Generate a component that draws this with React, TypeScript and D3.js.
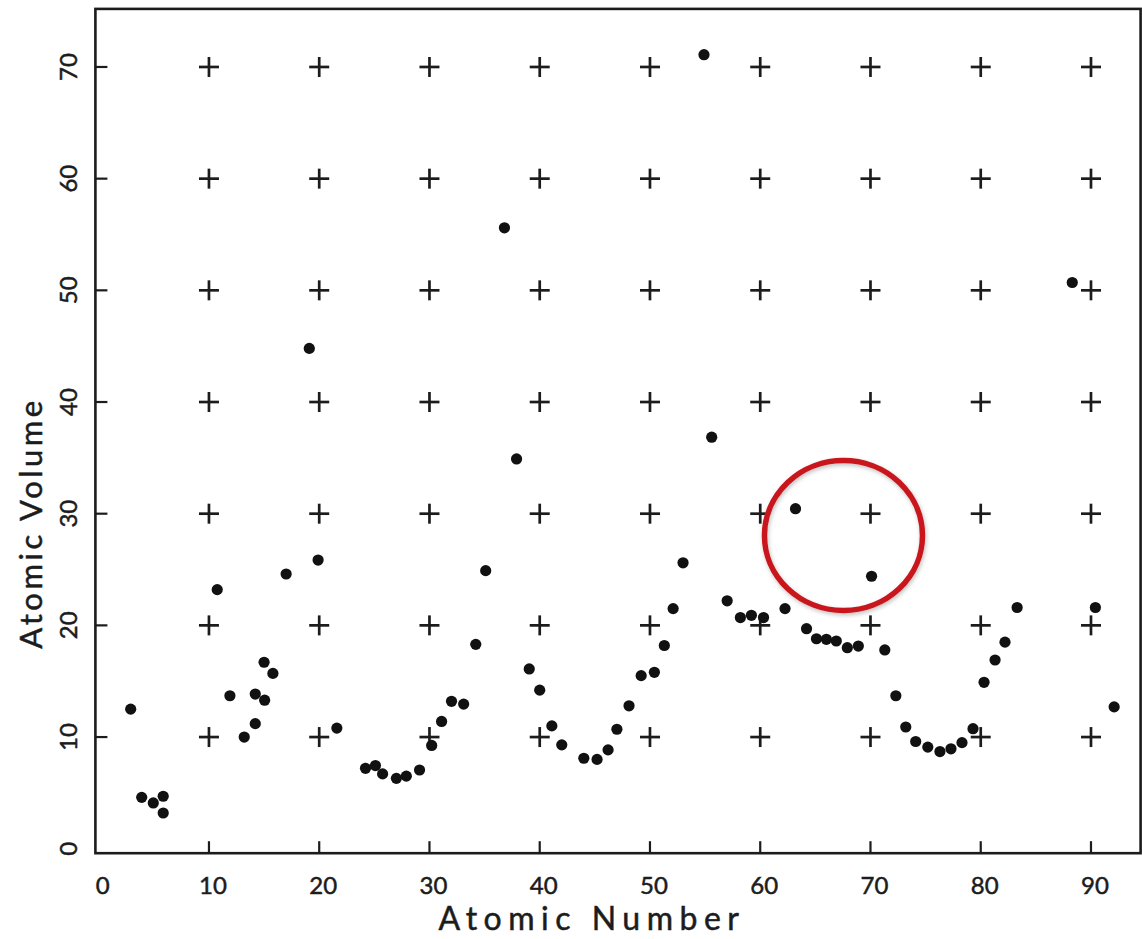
import React from 'react'
import * as d3 from 'd3'

// atomic number / atomic volume
const atomicNumber = [
  2.9, 3.9, 4.95, 5.85, 5.85, 10.75, 11.9, 13.2, 14.2, 14.2, 15.05, 15.0, 15.8, 17.0, 19.1, 19.9,
  21.6, 24.2, 25.1, 25.75, 27.0, 27.9, 29.1, 30.2, 31.1, 32.0, 33.1, 34.2, 35.1, 36.8, 37.9,
  39.05, 40.0, 41.1, 42.0, 44.0, 45.2, 46.2, 47.0, 48.1, 49.2, 50.4, 51.3, 52.1, 53.0, 54.9,
  55.6, 57.0, 58.2, 59.2, 60.3, 62.25, 63.2, 64.2, 65.1, 66.0, 66.9, 67.9, 68.9, 70.1, 71.3,
  72.3, 73.2, 74.1, 75.2, 76.3, 77.3, 78.3, 79.3, 80.3, 81.3, 82.2, 83.3, 88.3, 90.4, 92.1,
]
const atomicVolume = [
  12.5, 4.6, 4.1, 4.7, 3.2, 23.2, 13.7, 10.0, 11.2, 13.85, 13.3, 16.7, 15.7, 24.6, 44.8, 25.85,
  10.8, 7.2, 7.45, 6.7, 6.3, 6.5, 7.05, 9.25, 11.4, 13.2, 12.95, 18.3, 24.9, 55.6, 34.9,
  16.1, 14.2, 11.0, 9.3, 8.1, 8.0, 8.85, 10.7, 12.8, 15.5, 15.8, 18.2, 21.5, 25.6, 71.1,
  36.85, 22.2, 20.7, 20.9, 20.7, 21.5, 30.45, 19.7, 18.8, 18.75, 18.6, 18.0, 18.15, 24.4, 17.8,
  13.7, 10.9, 9.6, 9.1, 8.7, 8.95, 9.5, 10.75, 14.9, 16.9, 18.5, 21.6, 50.7, 21.6, 12.7,
]

const xTicks = [0, 10, 20, 30, 40, 50, 60, 70, 80, 90]
const yTicks = [0, 10, 20, 30, 40, 50, 60, 70]

// highlighted region (data coords)
const circleCenter = [67.55, 28.05]

const W = 1142
const H = 939
const ink = '#1c1c1c'
const labelFont = 'Lato, "DejaVu Sans", sans-serif'

export default function App() {
  const x = d3.scaleLinear().domain([-0.3, 94.5]).range([95.4, 1140.6])
  const y = d3.scaleLinear().domain([-0.4, 75.2]).range([853.2, 8.9])

  const [x0, x1] = x.range()
  const [y0, y1] = y.range()

  const grid: [number, number][] = []
  xTicks.filter(t => t > 0).forEach(gx => {
    yTicks.filter(t => t > 0).forEach(gy => grid.push([gx, gy]))
  })

  const pts = atomicNumber.map((z, i) => ({ z, v: atomicVolume[i] }))

  return (
    <svg width={W} height={H} style={{ position: 'absolute', left: 0, top: 0, background: '#fff' }}>
      <rect x={0} y={0} width={W} height={H} fill="#fff" />

      {/* frame */}
      <rect x={x0} y={y1} width={x1 - x0} height={y0 - y1} fill="none" stroke={ink} strokeWidth={2.6} />

      {/* axis ticks */}
      {xTicks.filter(t => t > 0).map(t => (
        <line key={'xt' + t} x1={x(t)} x2={x(t)} y1={y0} y2={y0 - 12} stroke={ink} strokeWidth={2.2} />
      ))}
      {yTicks.filter(t => t > 0).map(t => (
        <line key={'yt' + t} x1={x0} x2={x0 + 12} y1={y(t)} y2={y(t)} stroke={ink} strokeWidth={2.2} />
      ))}

      {/* grid crosses */}
      {grid.map(([gx, gy]) => (
        <g key={gx + '-' + gy} stroke={ink} strokeWidth={2.7}>
          <line x1={x(gx) - 10} x2={x(gx) + 10} y1={y(gy)} y2={y(gy)} />
          <line x1={x(gx)} x2={x(gx)} y1={y(gy) - 10} y2={y(gy) + 10} />
        </g>
      ))}

      {/* points */}
      {pts.map((d, i) => (
        <circle key={i} cx={x(d.z)} cy={y(d.v)} r={5.6} fill="#111" />
      ))}

      {/* tick labels */}
      <g fontFamily={labelFont} fill={ink} stroke={ink} strokeWidth={0.5}>
        {xTicks.map(t => (
          <text key={'xl' + t} x={x(t) + 4} y={894} textAnchor="middle" fontSize={24}>{t}</text>
        ))}
        {yTicks.map(t => (
          <text key={'yl' + t} transform={`translate(77,${y(t)}) rotate(-90)`} textAnchor="middle"
            fontSize={24}>{t}</text>
        ))}

        {/* axis titles */}
        <text x={592} y={930} textAnchor="middle" fontSize={32} letterSpacing={6.5}>Atomic Number</text>
        <text transform={`translate(42,523) rotate(-90)`} textAnchor="middle" fontSize={31}
          letterSpacing={3.5}>Atomic Volume</text>
      </g>

      {/* red highlight */}
      <defs>
        <filter id="sh" x="-20%" y="-20%" width="140%" height="140%">
          <feDropShadow dx={1} dy={2} stdDeviation={2} floodColor="#000" floodOpacity={0.25} />
        </filter>
      </defs>
      <ellipse cx={x(circleCenter[0])} cy={y(circleCenter[1])} rx={79} ry={75} fill="none"
        stroke="#c8191e" strokeWidth={5.5} filter="url(#sh)" />
    </svg>
  )
}
